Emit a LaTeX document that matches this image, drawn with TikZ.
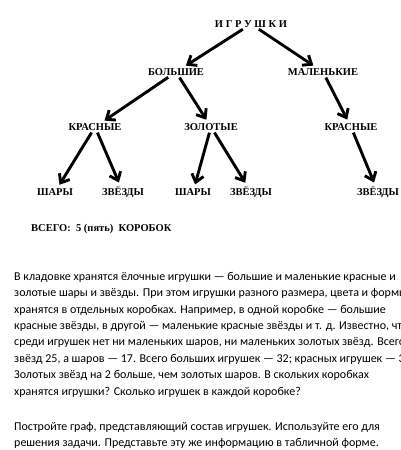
\documentclass[tikz,border=0pt]{standalone}
\usepackage{fontspec}
\setmainfont{Liberation Serif}
\newfontfamily\bodyfont{Carlito}
\usetikzlibrary{arrows.meta}

\begin{document}
\begin{tikzpicture}[x=1pt, y=-1pt, line join=round,
    lbl/.style={font=\fontsize{10.5}{12}\selectfont\bfseries, inner sep=1pt},
    arr/.style={-{Straight Barb[length=7.5pt,width=12pt]}, line width=2.9pt,
                shorten <=1pt, shorten >=3pt}]
  \useasboundingbox (0,0) rectangle (400,450); % same page as the scan
  \clip (0,0) rectangle (400,450);

  % --- tree of toys ---
  \node[lbl] (toys)  at (251,24)  {И Г Р У Ш К И};
  \node[lbl] (big)   at (176,72)  {БОЛЬШИЕ};
  \node[lbl] (small) at (323,72)  {МАЛЕНЬКИЕ};
  \node[lbl] (bred)  at (95,127)  {КРАСНЫЕ};
  \node[lbl] (bgold) at (211,127) {ЗОЛОТЫЕ};
  \node[lbl] (sred)  at (351,127) {КРАСНЫЕ};
  \node[lbl] (rball) at (55,192)  {ШАРЫ};
  \node[lbl] (rstar) at (123,192) {ЗВЁЗДЫ};
  \node[lbl] (gball) at (193,192) {ШАРЫ};
  \node[lbl] (gstar) at (251,192) {ЗВЁЗДЫ};
  \node[lbl] (sstar) at (378,192) {ЗВЁЗДЫ};

  \draw[arr] (toys) -- (big);   \draw[arr] (toys) -- (small);
  \draw[arr] (big) -- (bred);   \draw[arr] (big) -- (bgold);
  \draw[arr] (small) -- (sred);
  \draw[arr] (bred) -- (rball); \draw[arr] (bred) -- (rstar);
  \draw[arr] (bgold) -- (gball); \draw[arr] (bgold) -- (gstar);
  \draw[arr] (sred) -- (sstar);

  \node[lbl, anchor=west] (total) at (30,229) {ВСЕГО:\ \ 5 (пять)\ \ КОРОБОК};

  % --- task text (cut at the right edge, as in the scan) ---
  \node[anchor=north west, align=left, inner sep=0pt,
        font=\bodyfont\fontsize{12}{16.4}\selectfont] (task) at (14,272) {%
    В кладовке хранятся ёлочные игрушки — большие и маленькие красные и\\
    золотые шары и звёзды. При этом игрушки разного размера, цвета и формы\\
    хранятся в отдельных коробках. Например, в одной коробке — большие\\
    красные звёзды, в другой — маленькие красные звёзды и т. д. Известно, что\\
    среди игрушек нет ни маленьких шаров, ни маленьких золотых звёзд. Всего\\
    звёзд 25, а шаров — 17. Всего больших игрушек — 32; красных игрушек — 30.\\
    Золотых звёзд на 2 больше, чем золотых шаров. В скольких коробках\\
    хранятся игрушки? Сколько игрушек в каждой коробке?\\[19pt]
    Постройте граф, представляющий состав игрушек. Используйте его для\\
    решения задачи. Представьте эту же информацию в табличной форме.};
\end{tikzpicture}
\end{document}
